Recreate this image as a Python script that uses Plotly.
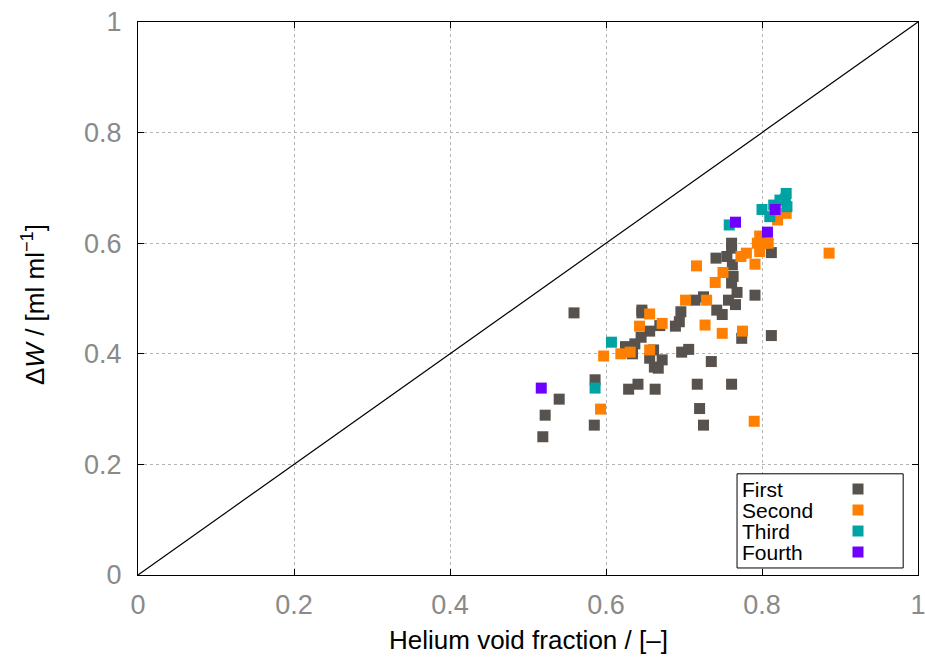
import plotly.graph_objects as go

# ---- data ----
first_x = [0.559, 0.540, 0.522, 0.519, 0.586, 0.585, 0.625, 0.634, 0.637, 0.645,
           0.646, 0.646, 0.656, 0.669, 0.661, 0.656, 0.672, 0.662, 0.667, 0.641,
           0.629, 0.663, 0.689, 0.694, 0.696, 0.714, 0.725, 0.697, 0.706, 0.735,
           0.717, 0.720, 0.725, 0.741, 0.742, 0.749, 0.761, 0.761, 0.755, 0.762,
           0.763, 0.761, 0.768, 0.757, 0.766, 0.791, 0.774, 0.812, 0.761, 0.812]
first_y = [0.474, 0.318, 0.289, 0.250, 0.353, 0.271, 0.413, 0.400, 0.418, 0.430,
           0.474, 0.479, 0.441, 0.451, 0.407, 0.392, 0.389, 0.376, 0.374, 0.345,
           0.336, 0.336, 0.450, 0.458, 0.476, 0.497, 0.503, 0.403, 0.408, 0.386,
           0.345, 0.301, 0.271, 0.573, 0.479, 0.471, 0.600, 0.591, 0.576, 0.561,
           0.540, 0.528, 0.511, 0.497, 0.489, 0.506, 0.428, 0.433, 0.345, 0.583]

second_x = [0.593, 0.597, 0.619, 0.631, 0.643, 0.656, 0.672, 0.656, 0.702, 0.729,
            0.727, 0.716, 0.740, 0.750, 0.749, 0.775, 0.790, 0.780, 0.773, 0.791,
            0.797, 0.802, 0.794, 0.808, 0.797, 0.820, 0.831, 0.886]
second_y = [0.300, 0.396, 0.400, 0.403, 0.450, 0.472, 0.455, 0.407, 0.497, 0.497,
            0.452, 0.559, 0.529, 0.547, 0.437, 0.441, 0.278, 0.582, 0.576, 0.562,
            0.613, 0.600, 0.600, 0.600, 0.585, 0.642, 0.654, 0.582]

third_x = [0.607, 0.586, 0.758, 0.831, 0.832, 0.823, 0.800, 0.810, 0.815, 0.830]
third_y = [0.421, 0.338, 0.633, 0.690, 0.666, 0.678, 0.661, 0.648, 0.669, 0.680]

fourth_x = [0.517, 0.766, 0.807, 0.817]
fourth_y = [0.338, 0.638, 0.620, 0.661]

series_names = ["First", "Second", "Third", "Fourth"]
series_colors = ["#57524d", "#ff8000", "#00a3a3", "#6d00ff"]
series_data = [(first_x, first_y), (second_x, second_y),
               (third_x, third_y), (fourth_x, fourth_y)]

ticks = [0, 0.2, 0.4, 0.6, 0.8, 1]
tick_text = ["0", "0.2", "0.4", "0.6", "0.8", "1"]

x_title = "Helium void fraction / [–]"
y_title = "Δ<i>W</i> / [ml ml<sup>−1</sup>]"

fig = go.Figure()

# diagonal y = x
fig.add_trace(go.Scatter(x=[0, 1], y=[0, 1], mode="lines",
                         line=dict(color="black", width=1.2),
                         showlegend=False, hoverinfo="skip"))

for name, color, (xs, ys) in zip(series_names, series_colors, series_data):
    fig.add_trace(go.Scatter(x=xs, y=ys, mode="markers", name=name,
                             marker=dict(symbol="square", size=11, color=color,
                                         line=dict(width=0)),
                             showlegend=False))

axis_common = dict(
    range=[0, 1], tickvals=ticks, ticktext=tick_text, automargin=False,
    ticklabeloverflow="allow",
    showgrid=True, gridcolor="#b4b4b4", griddash="dot", gridwidth=1,
    zeroline=False, showline=True, linecolor="black", linewidth=1, mirror="ticks",
    ticks="inside", ticklen=6, tickcolor="black",
    tickfont=dict(family="Liberation Sans", size=27, color="#8a8a8a"),
)

fig.update_xaxes(**axis_common, ticklabelstandoff=6)
fig.update_yaxes(**axis_common, ticklabelstandoff=10)

# legend box drawn manually (symbols on the right, like the original)
shapes = [dict(type="rect", xref="paper", yref="paper",
               x0=0.768, x1=0.981, y0=0.0127, y1=0.183,
               line=dict(color="black", width=1), fillcolor="white", layer="above")]
annotations = [
    dict(xref="paper", yref="paper", x=0.5, y=(575 - 640) / 553, text=x_title,
         showarrow=False, xanchor="center", yanchor="middle",
         font=dict(family="Liberation Sans", size=26, color="black")),
    dict(xref="paper", yref="paper", x=(34 - 138) / 780, y=(575 - 305) / 553, text=y_title,
         showarrow=False, xanchor="center", yanchor="middle", textangle=-90,
         font=dict(family="Liberation Sans", size=26, color="black")),
]
row_y = [489, 510, 531, 552]
for name, color, py in zip(series_names, series_colors, row_y):
    yp = (575 - py) / 553
    annotations.append(dict(xref="paper", yref="paper", x=(740 - 138) / 780, y=yp,
                            text=name, showarrow=False, xanchor="left", yanchor="middle",
                            font=dict(family="Liberation Sans", size=21, color="black")))
    cx = (858 - 138) / 780
    hw = 5.5 / 780
    hh = 5.5 / 553
    shapes.append(dict(type="rect", xref="paper", yref="paper",
                       x0=cx - hw, x1=cx + hw, y0=yp - hh, y1=yp + hh,
                       line=dict(width=0), fillcolor=color, layer="above"))

fig.update_layout(
    width=925, height=657,
    margin=dict(l=138, r=7, t=22, b=82),
    plot_bgcolor="white", paper_bgcolor="white",
    shapes=shapes, annotations=annotations,
    showlegend=False,
)

fig.write_html("out.html")
